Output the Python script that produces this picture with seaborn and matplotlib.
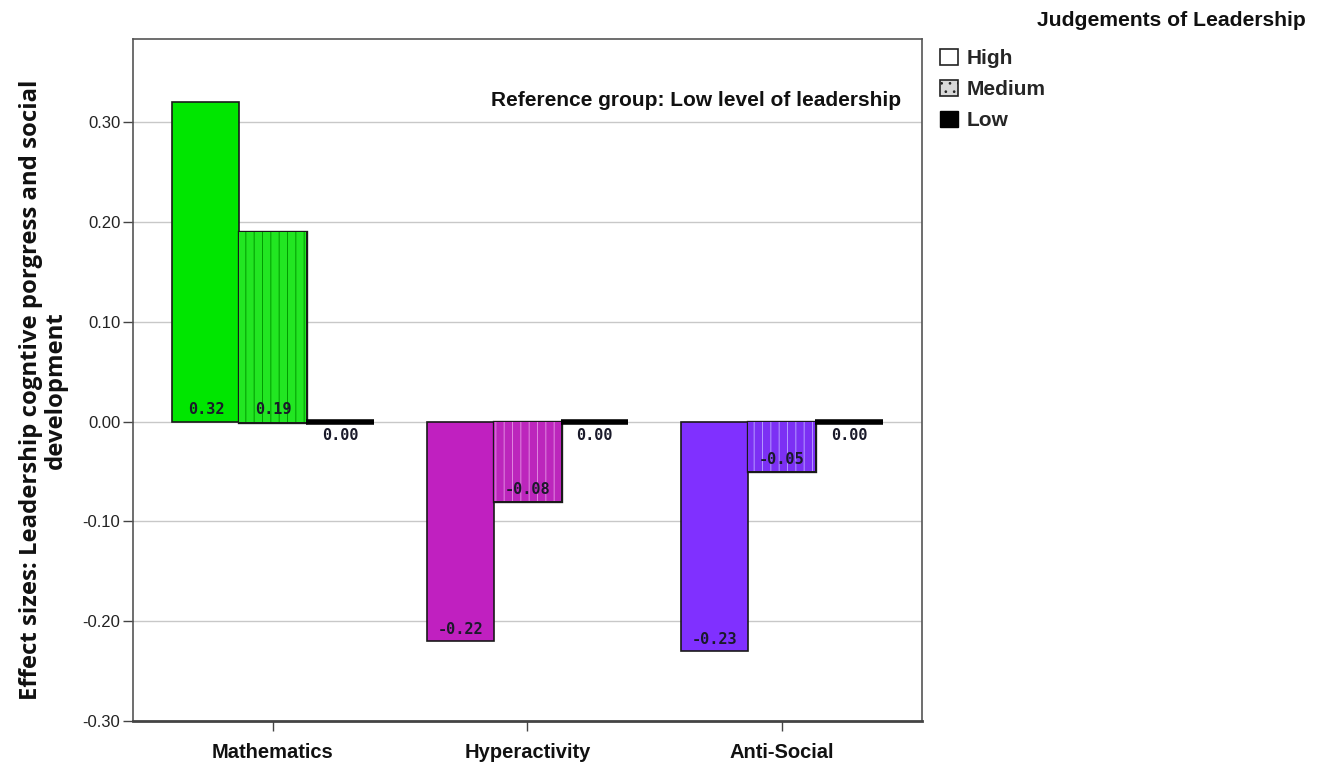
import matplotlib
matplotlib.use("Agg")
import matplotlib.pyplot as plt
from matplotlib.patches import Patch
from matplotlib import patheffects as pe
import seaborn as sns
import pandas as pd

categories = ["Mathematics", "Hyperactivity", "Anti-Social"]
levels = ["High", "Medium", "Low"]
high_vals = [0.32, -0.22, -0.23]
medium_vals = [0.19, -0.08, -0.05]
low_vals = [0.00, 0.00, 0.00]
yticks = [-0.30, -0.20, -0.10, 0.00, 0.10, 0.20, 0.30]

cat_colors = ["#00e600", "#c020c0", "#8030ff"]
medium_colors = ["#22e622", "#bc26bc", "#7c30f4"]
hatch_colors = ["#009a00", "#e088e0", "#b49aff"]

rows = []
for i, c in enumerate(categories):
    for lev, vals in zip(levels, [high_vals, medium_vals, low_vals]):
        rows.append({"category": c, "level": lev, "value": vals[i]})
df = pd.DataFrame(rows)

sns.set_theme(style="white")
plt.rcParams["font.family"] = ["Liberation Sans", "DejaVu Sans"]
plt.rcParams["hatch.linewidth"] = 0.7

fig = plt.figure(figsize=(13.22, 7.73), dpi=100)
ax = fig.add_axes([0.1006, 0.0673, 0.5968, 0.882])

sns.barplot(data=df, x="category", y="value", hue="level", order=categories,
            hue_order=levels, ax=ax, width=0.79, legend=False,
            palette=["#ffffff", "#cccccc", "#000000"], errorbar=None, saturation=1)

for li, cont in enumerate(ax.containers):
    for ci, bar in enumerate(cont):
        if levels[li] == "High":
            bar.set_facecolor(cat_colors[ci])
            bar.set_edgecolor("#1a1a1a")
            bar.set_linewidth(1.2)
        elif levels[li] == "Medium":
            bar.set_facecolor(medium_colors[ci])
            bar.set_edgecolor(hatch_colors[ci])
            bar.set_linewidth(0)
            bar.set_hatch("||")
            bar.set_path_effects([pe.Stroke(linewidth=2.4, foreground="#1a1a1a"),
                                  pe.Normal()])
        else:
            bar.set_facecolor("black")
            bar.set_edgecolor("black")
            bar.set_linewidth(4)

# value labels
for li, cont in enumerate(ax.containers):
    vals = [high_vals, medium_vals, low_vals][li]
    for ci, bar in enumerate(cont):
        v = vals[ci]
        xc = bar.get_x() + bar.get_width() / 2
        if v == 0:
            y = -0.014
        else:
            y = min(v, 0) + 0.012
        ax.text(xc, y, f"{v:.2f}", ha="center", va="center",
                fontsize=11, fontweight="bold", family="DejaVu Sans Mono",
                color="#1a1a2a")

ax.set_xlim(-0.55, 2.55)
ax.set_ylim(-0.30, 0.383)
ax.set_yticks(yticks)
ax.set_yticklabels([f"{t:.2f}" for t in yticks], fontsize=12, color="#222222")
ax.yaxis.grid(True, color="#c8c8c8", linewidth=1)
ax.set_axisbelow(True)
ax.tick_params(axis="y", direction="out", length=7, width=1, color="#444444", left=True, pad=2)
ax.tick_params(axis="x", direction="out", length=7, width=1, color="#444444", bottom=True, pad=9)
for lab in ax.get_xticklabels():
    lab.set_fontweight("bold")
    lab.set_fontsize(14.5)
    lab.set_color("#111111")

for s in ["top", "right", "left"]:
    ax.spines[s].set_visible(True)
    ax.spines[s].set_color("#555555")
    ax.spines[s].set_linewidth(1.2)
ax.spines["bottom"].set_visible(True)
ax.spines["bottom"].set_color("#444444")
ax.spines["bottom"].set_linewidth(2)

ax.set_xlabel("")
ax.set_ylabel("Effect sizes: Leadership cogntive porgress and social\ndevelopment",
              fontsize=17.2, fontweight="bold", family=["Open Sans", "DejaVu Sans"],
              labelpad=7, linespacing=1.05, color="#111111")
ax.yaxis.set_label_coords(-0.083, 0.486)

ax.text(0.973, 0.9106, "Reference group: Low level of leadership", transform=ax.transAxes,
        ha="right", va="center", fontsize=15, fontweight="bold", color="#111111")

fig.text(0.988, 0.973, "Judgements of Leadership", ha="right", va="center",
         fontsize=15.2, fontweight="bold", color="#111111")

handles = [Patch(facecolor="white", edgecolor="#222222", linewidth=1.2),
           Patch(facecolor="#d8d8d8", edgecolor="#222222", hatch="..", linewidth=1.2),
           Patch(facecolor="black", edgecolor="black")]
leg = fig.legend(handles, levels, loc="upper left", bbox_to_anchor=(0.711, 0.937),
                 frameon=False, handlelength=0.85, handleheight=0.85, handletextpad=0.45,
                 labelspacing=0.55, borderpad=0, borderaxespad=0,
                 prop={"weight": "bold", "size": 15})

fig.savefig("out.png", dpi=100)
